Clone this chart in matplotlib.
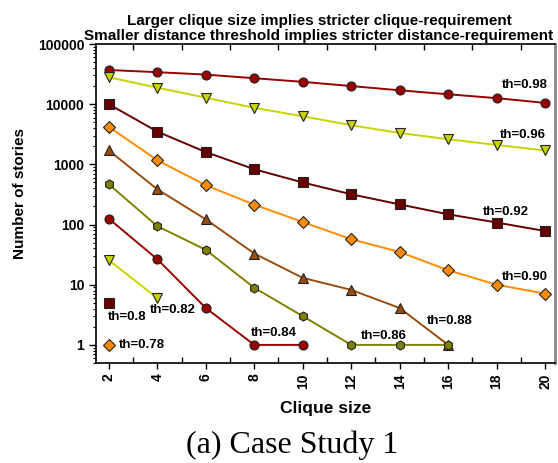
import matplotlib
matplotlib.use("Agg")
import matplotlib.pyplot as plt
from matplotlib.ticker import FixedLocator, LogLocator, NullFormatter

plt.rcParams['font.family'] = ['Liberation Sans', 'DejaVu Sans']

# data
x_full = [2, 4, 6, 8, 10, 12, 14, 16, 18, 20]
th098 = [37000, 34000, 31000, 27000, 23500, 20000, 17000, 14600, 12600, 10500]
th096 = [28000, 18800, 12800, 8700, 6300, 4470, 3320, 2620, 2100, 1700]
th092 = [10000, 3500, 1600, 830, 500, 318, 216, 148, 108, 78]
th090 = [4200, 1170, 450, 214, 110, 57, 35, 17.4, 10, 7.1]
x_088 = [2, 4, 6, 8, 10, 12, 14, 16]
th088 = [1700, 385, 122, 33, 13, 8.2, 4.1, 1]
x_086 = [2, 4, 6, 8, 10, 12, 14, 16]
th086 = [466, 94, 38, 8.9, 3, 1, 1, 1]
x_084 = [2, 4, 6, 8, 10]
th084 = [125, 26.5, 4.1, 1, 1]
x_082 = [2, 4]
th082 = [25.5, 6]
x_080 = [2]
th080 = [5]
x_078 = [2]
th078 = [1]

series = [
    (x_full, th098, '#990000', 'o', 'th=0.98'),
    (x_full, th096, '#C8D400', 'v', 'th=0.96'),
    (x_full, th092, '#660000', 's', 'th=0.92'),
    (x_full, th090, '#FF8C00', 'D', 'th=0.90'),
    (x_088, th088, '#9A4C0C', '^', 'th=0.88'),
    (x_086, th086, '#808000', 'h', 'th=0.86'),
    (x_084, th084, '#990000', 'o', 'th=0.84'),
    (x_082, th082, '#C8D400', 'v', 'th=0.82'),
    (x_080, th080, '#660000', 's', 'th=0.8'),
    (x_078, th078, '#FF8C00', 'D', 'th=0.78'),
]

# label anchor positions (data coords) and alignment
label_pos = {
    'th=0.98': (20.1, 20900, 'right'),
    'th=0.96': (20.05, 3090, 'right'),
    'th=0.92': (17.45, 162, 'left'),
    'th=0.90': (20.1, 13.5, 'right'),
    'th=0.88': (15.14, 2.5, 'left'),
    'th=0.86': (12.41, 1.41, 'left'),
    'th=0.84': (7.87, 1.58, 'left'),
    'th=0.82': (3.69, 3.8, 'left'),
    'th=0.8': (1.96, 2.92, 'left'),
    'th=0.78': (2.41, 1.0, 'left'),
}

fig = plt.figure(figsize=(5.58, 4.63), dpi=100)
ax = fig.add_axes([96/558, 1-363/463, (555-96)/558, (363-44)/463])

for xs, ys, c, m, lab in series:
    ms = 6 if m == 'D' else 6.5
    ax.plot(xs, ys, color=c, lw=1.4, marker=m, markersize=ms,
            markerfacecolor=c, markeredgecolor='#222222', markeredgewidth=0.8,
            zorder=3)
    lx, ly, ha = label_pos[lab]
    ax.text(lx, ly, lab, fontsize=9.5, fontweight='bold', ha=ha, va='center',
            zorder=4)

ax.set_yscale('log')
ax.set_ylim(0.5, 100000)
ax.set_xlim(1.47, 20.41)

ax.xaxis.set_major_locator(FixedLocator(x_full))
ax.xaxis.set_minor_locator(FixedLocator([3, 5, 7, 9, 11, 13, 15, 17, 19]))
ax.set_xticklabels([str(v) for v in x_full], rotation=90, fontsize=10,
                   fontweight='bold')
ax.tick_params(axis='x', which='major', direction='out', length=4, width=1)
ax.tick_params(axis='x', which='minor', direction='in', length=4, width=1,
               top=True, bottom=True)

ax.set_yticks([1, 10, 100, 1000, 10000, 100000])
ax.yaxis.set_minor_locator(LogLocator(base=10, subs=range(2, 10), numticks=20))
ax.yaxis.set_minor_formatter(NullFormatter())
ax.set_yticklabels(['1', '10', '100', '1000', '10000', '100000'],
                   fontsize=10, fontweight='bold')
ax.tick_params(axis='y', which='major', direction='out', length=5, width=1)
ax.tick_params(axis='y', which='minor', direction='out', length=2.5, width=0.8)

for s in ['left', 'bottom', 'top']:
    ax.spines[s].set_linewidth(1.2)
ax.spines['right'].set_color('#888888')
ax.spines['right'].set_linewidth(2)

ax.set_ylabel('Number of stories', fontsize=11, fontweight='bold')
ax.yaxis.set_label_coords(-0.15, 0.53)
ax.set_xlabel('Clique size', fontsize=12.5, fontweight='bold', labelpad=9)
ax.set_title('Larger clique size implies stricter clique-requirement\n'
             'Smaller distance threshold implies stricter distance-requirement',
             fontsize=11, fontweight='bold', linespacing=1.05, pad=3,
             x=(319 - 96) / 459)

fig.text(0.523, 0.039, '(a) Case Study 1', ha='center', va='center',
         fontsize=23, family='Liberation Serif')

fig.savefig('out.png', dpi=100)
